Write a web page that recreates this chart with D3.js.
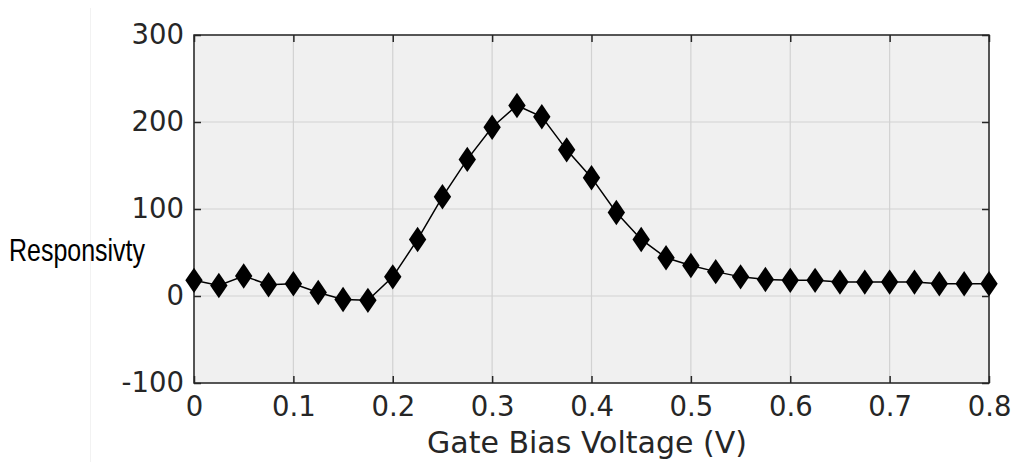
<!DOCTYPE html>
<html>
<head>
<meta charset="utf-8">
<script src="https://cdn.jsdelivr.net/npm/d3@7"></script>
<style>
  body { margin: 0; background: #fff; }
  svg { display: block; }
</style>
</head>
<body>
<div id="chart-area"></div>
<script>
// data
var voltage = [0, 0.025, 0.05, 0.075, 0.1, 0.125, 0.15, 0.175, 0.2, 0.225, 0.25,
  0.275, 0.3, 0.325, 0.35, 0.375, 0.4, 0.425, 0.45, 0.475, 0.5, 0.525, 0.55,
  0.575, 0.6, 0.625, 0.65, 0.675, 0.7, 0.725, 0.75, 0.775, 0.8];
var responsivity = [18, 12, 23, 13, 14, 4, -4, -5, 22, 65, 114,
  157, 194, 219, 206, 168, 136, 96, 65, 44, 35, 28, 22,
  19, 18, 18, 16, 16, 16, 16, 14, 14, 14];
var xTicks = [0, 0.1, 0.2, 0.3, 0.4, 0.5, 0.6, 0.7, 0.8];
var yTicks = [-100, 0, 100, 200, 300];

var W = 1012, H = 462;
var margin = { left: 194, right: 23, top: 35, bottom: 79 };
var width = W - margin.left - margin.right,
  height = H - margin.top - margin.bottom;

var svg = d3.select("#chart-area")
  .append("svg")
  .attr("width", W)
  .attr("height", H);

// faint page edge line
svg.append("line")
  .attr("x1", 90.5).attr("x2", 90.5)
  .attr("y1", 8).attr("y2", H)
  .attr("stroke", "#f2f2f2").attr("stroke-width", 1);

var g = svg.append("g")
  .attr("transform", "translate(" + margin.left + "," + margin.top + ")");

var x = d3.scaleLinear().domain([0, 0.8]).range([0, width]);
var y = d3.scaleLinear().domain([-100, 300]).range([height, 0]);

g.append("rect")
  .attr("width", width)
  .attr("height", height)
  .attr("fill", "#f0f0f0");

// grid
g.selectAll(".vgrid").data(xTicks).enter().append("line")
  .attr("x1", function(d) { return x(d); })
  .attr("x2", function(d) { return x(d); })
  .attr("y1", 0).attr("y2", height)
  .attr("stroke", "#d2d2d2").attr("stroke-width", 1.2);
g.selectAll(".hgrid").data(yTicks).enter().append("line")
  .attr("y1", function(d) { return y(d); })
  .attr("y2", function(d) { return y(d); })
  .attr("x1", 0).attr("x2", width)
  .attr("stroke", "#d2d2d2").attr("stroke-width", 1.2);

// axes (ticks inward)
var tickLen = 7;
var plain = function(d) { return String(d); };
var xAxisGroup = g.append("g")
  .attr("transform", "translate(0," + height + ")")
  .call(d3.axisBottom(x).tickValues(xTicks).tickSizeInner(-tickLen).tickSizeOuter(0)
    .tickPadding(13).tickFormat(plain));
var yAxisGroup = g.append("g")
  .call(d3.axisLeft(y).tickValues(yTicks).tickSizeInner(-tickLen).tickSizeOuter(0)
    .tickPadding(10).tickFormat(plain));
g.append("g")
  .call(d3.axisTop(x).tickValues(xTicks).tickSizeInner(-tickLen).tickSizeOuter(0).tickFormat(""));
g.append("g")
  .attr("transform", "translate(" + width + ",0)")
  .call(d3.axisRight(y).tickValues(yTicks).tickSizeInner(-tickLen).tickSizeOuter(0).tickFormat(""));

g.selectAll(".domain").remove();
g.selectAll(".tick line").attr("stroke", "#262626").attr("stroke-width", 1.5);
g.selectAll(".tick text")
  .attr("fill", "#262626")
  .attr("font-family", "DejaVu Sans")
  .attr("font-size", "27.5px");

g.append("rect")
  .attr("width", width)
  .attr("height", height)
  .attr("fill", "none")
  .attr("stroke", "#262626")
  .attr("stroke-width", 1.5);

// line + diamonds
var pts = voltage.map(function(v, i) { return [v, responsivity[i]]; });
var lineGenerator = d3.line()
  .x(function(d) { return x(d[0]); })
  .y(function(d) { return y(d[1]); });

g.append("path")
  .attr("d", lineGenerator(pts))
  .attr("fill", "none")
  .attr("stroke", "#000")
  .attr("stroke-width", 1.5);

var hw = 8.7, hh = 12.7;
g.selectAll(".marker").data(pts).enter().append("path")
  .attr("class", "marker")
  .attr("transform", function(d) { return "translate(" + x(d[0]) + "," + y(d[1]) + ")"; })
  .attr("d", "M0," + (-hh) + "L" + hw + ",0L0," + hh + "L" + (-hw) + ",0Z")
  .attr("fill", "#000");

// labels
svg.append("text")
  .attr("x", 587)
  .attr("y", 453)
  .attr("text-anchor", "middle")
  .attr("font-family", "DejaVu Sans")
  .attr("font-size", "30px")
  .attr("fill", "#262626")
  .text("Gate Bias Voltage (V)");

svg.append("text")
  .attr("x", 9)
  .attr("y", 261)
  .attr("font-family", "Liberation Sans")
  .attr("font-size", "32px")
  .attr("textLength", 136)
  .attr("lengthAdjust", "spacingAndGlyphs")
  .attr("fill", "#000")
  .text("Responsivty");
</script>
</body>
</html>
